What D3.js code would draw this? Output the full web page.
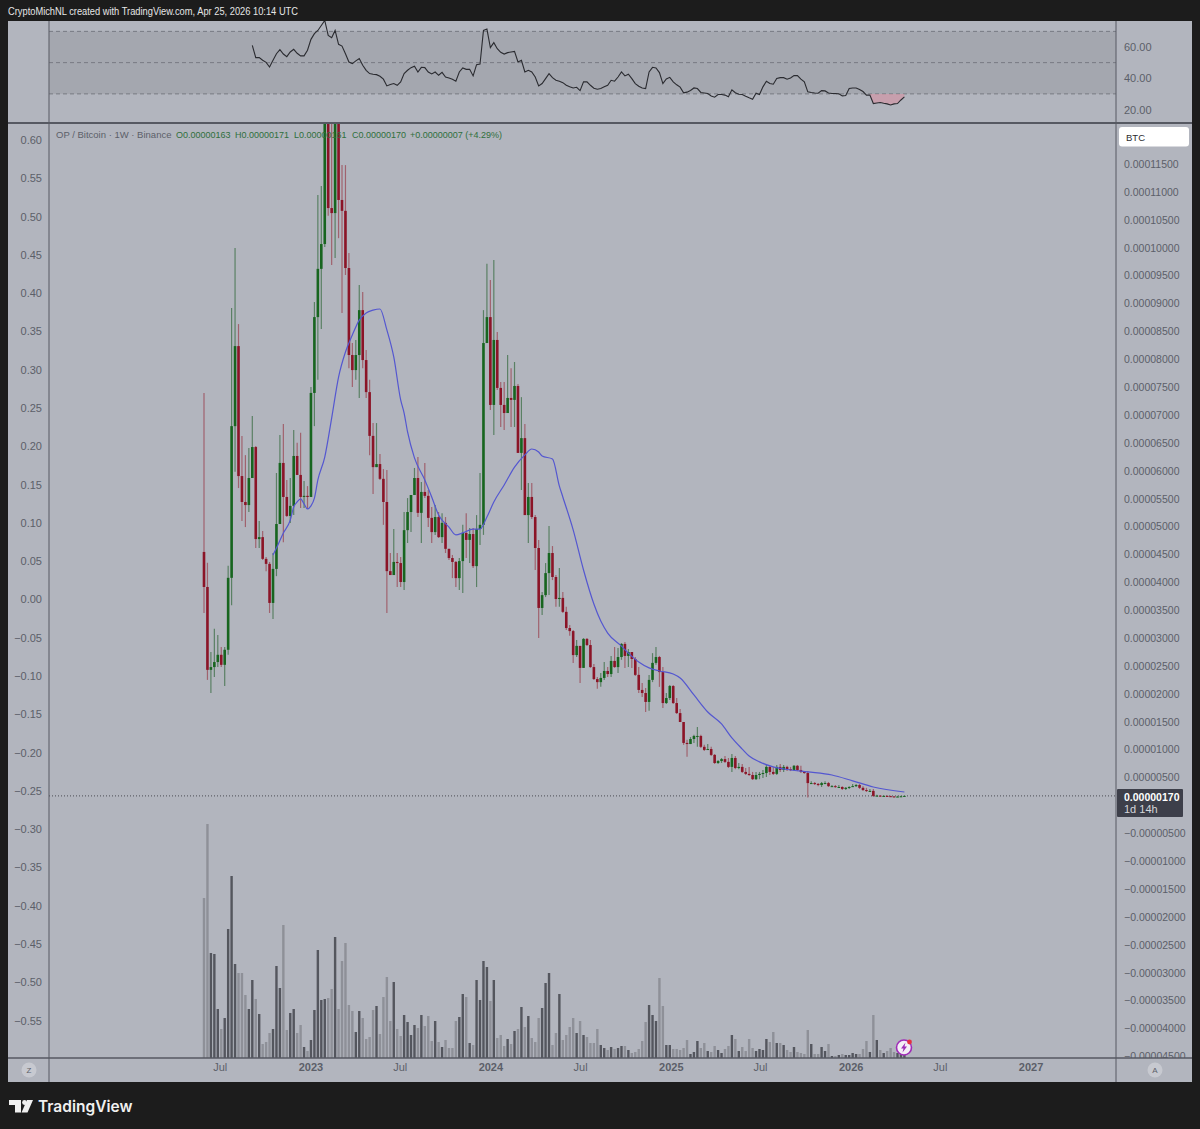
<!DOCTYPE html>
<html>
<head>
<meta charset="utf-8">
<title>OP / Bitcoin</title>
<script src="https://cdnjs.cloudflare.com/ajax/libs/d3/7.8.5/d3.min.js"></script>
<style>
html, body { margin: 0; padding: 0; background: #1c1c1c; }
svg { display: block; }
text { font-family: "Liberation Sans", sans-serif; }
.domain { display: none; }
</style>
</head>
<body>
<div id="mainContainer"></div>
<script>
// weekly candles in satoshi, first candle is the week of 30 May 2022
var firstWeek = "2022-05-30";
var firstOpen = 4544;
var closes = [
    3916,2430,2480,2570,2700,2520,2790,4080,6800,8235,
    5905,5440,5385,5870,6425,4775,4810,4420,4330,3630,
    4240,5045,6140,5530,5190,5370,6265,5925,5530,5550,
    5530,7395,8755,9620,10065,12380,10710,10620,12470,10855,
    10660,9635,8075,7805,8075,8880,7985,7410,6625,6065,
    6120,5855,5440,4200,4130,4365,4345,4005,4935,5260,
    5565,5870,5245,5620,5550,5155,4900,5170,4810,5065,
    4600,4435,4365,4075,4380,4885,4760,4865,4290,4955,
    5030,8290,8755,7180,8345,7485,7180,7035,7305,7270,
    7520,6320,6585,5205,5530,5170,4615,3540,3770,4165,
    4525,4095,3700,3720,3470,3180,3125,2695,2860,2465,
    2985,2875,2480,2265,2210,2285,2410,2355,2590,2480,
    2660,2895,2680,2750,2625,2340,2070,2015,1855,2250,
    2555,2660,2390,1835,1925,2140,1835,1655,1495,1120,
    1100,1190,1245,1245,1050,995,1010,905,760,795,
    830,780,690,850,670,690,600,565,545,470,
    545,565,580,690,600,565,690,635,690,650,
    635,710,635,600,580,400,400,385,365,400,
    400,345,345,330,330,295,315,330,345,365,
    315,275,260,260,170,175,170,170,165,160,
    155,158,163,170
];
var highs = [
    7395,4350,2750,3165,3055,2840,2840,4295,8920,9995,
    8630,6625,6280,6410,6980,6445,5100,4920,4455,4365,
    4525,5960,6640,6840,5835,5870,6730,6500,6680,5815,
    5725,7500,9025,10945,11105,12830,12650,12470,12920,12740,
    11480,11480,9905,8290,8345,9330,9205,8165,7630,6855,
    6855,6300,6030,6015,4525,4955,4525,4455,5260,5510,
    5565,6050,6245,5800,6140,5655,5350,5385,5260,5240,
    5170,4600,4490,4380,4435,5030,5240,4975,4975,5205,
    5960,8880,9710,9420,9780,8490,7590,7590,8075,7840,
    7950,7555,7320,6840,5780,5780,5205,4760,3825,4345,
    5010,4650,4130,4255,3825,3560,3235,3145,2965,2860,
    3000,3000,2965,2535,2300,2375,2570,2480,2680,2840,
    2820,2910,2930,2805,2750,2660,2480,2195,2105,2340,
    2730,2840,2680,2480,2015,2160,2160,1925,1730,1495,
    1175,1225,1265,1405,1265,1085,1100,1050,920,815,
    850,885,850,920,885,760,740,670,690,600,
    600,600,635,725,710,690,725,740,725,710,
    690,725,725,710,615,615,435,420,400,420,
    435,420,365,365,365,345,330,345,385,385,
    385,345,315,295,295,190,185,185,180,175,
    170,172,175,171
];
var lows = [
    3450,2250,2015,2300,2480,2480,2140,2700,3590,5980,
    5690,5100,4990,5260,5870,4615,4615,4400,4200,3450,
    3340,4110,5065,4720,5170,5065,5205,5925,5330,5330,
    5315,5530,6800,7630,8540,10010,10570,9690,9815,10170,
    8830,9510,7840,7500,7630,7305,7840,7305,6280,5585,
    6065,5835,5030,3450,4130,4165,3915,3915,3860,4705,
    4900,5565,5170,4705,5510,4990,4705,4850,4795,4705,
    4525,4400,4075,3915,3860,3810,4435,4345,4255,3915,
    4670,4850,8290,7090,6640,7450,6785,6730,7035,6785,
    6785,6320,5655,5205,4705,5135,4220,3000,3415,3735,
    3770,4040,3560,3560,3450,3145,3040,2555,2660,2195,
    2465,2860,2465,2250,2090,2125,2250,2300,2300,2465,
    2375,2610,2465,2480,2465,2320,2015,1945,1675,1695,
    2210,2520,2125,1745,1820,1890,1820,1640,1495,1085,
    870,1100,1120,1050,1030,975,995,885,740,740,
    760,760,670,600,650,650,580,545,525,455,
    455,470,490,510,545,545,545,600,600,615,
    615,615,615,580,565,140,385,365,345,330,
    385,330,330,315,315,275,275,295,330,330,
    295,260,240,240,150,165,160,160,155,150,
    148,150,150,161
];
var volumes = [
    160,234,105,104,49,29,40,129,182,94,
    85,85,63,49,78,59,44,14,16,25,
    29,92,70,133,28,45,49,25,33,11,
    7,18,48,108,58,59,60,69,121,49,
    97,115,53,47,26,47,40,19,21,48,
    52,24,61,81,37,76,29,22,43,36,
    23,33,30,43,32,42,17,37,16,11,
    18,10,10,37,41,64,61,15,13,78,
    58,97,91,57,78,20,23,12,19,14,
    27,29,51,31,42,20,16,40,50,75,
    85,13,25,64,18,23,31,40,25,37,
    23,21,15,15,29,13,10,8,11,9,
    10,12,12,8,5,6,9,17,36,53,
    43,37,80,52,13,13,9,9,8,10,
    18,4,6,17,10,15,7,6,12,8,
    5,9,12,23,19,7,11,7,19,10,
    7,9,8,19,16,26,15,15,13,8,
    6,11,6,5,4,28,14,4,4,11,
    7,14,2,2,3,4,3,3,5,4,
    4,9,17,6,43,18,8,5,7,10,
    6,5,4,3
];
// moving average, read at these week numbers
var maWeeks = [
    20,21,23,25,26,27,28,29,30,31,32,33,35,37,39,41,43,45,47,49,
    51,53,55,57,58,59,61,64,66,68,71,73,75,78,80,82,84,87,90,93,
    95,97,98,101,103,104,107,110,113,115,117,121,123,126,129,132,136,138,142,146,
    150,153,156,158,161,165,170,175,182,188,194,203
];
var maValues = [
    4490,4615,4885,5115,5350,5440,5495,5405,5315,5370,5510,5835,6245,6945,7680,8130,8435,8700,8830,8880,
    8900,8525,8040,7270,7035,6695,6230,5835,5530,5205,4990,4850,4885,4955,4955,5170,5440,5745,6065,6285,
    6390,6335,6265,6210,5725,5530,4940,4220,3610,3305,3090,2855,2730,2570,2465,2410,2355,2285,1980,1675,
    1460,1210,1010,885,780,690,635,600,545,440,330,240
];
// RSI starts at week 14
var rsiStart = 14;
var rsiValues = [
    61.1,53.2,53.2,51.5,50.2,47.2,
    51.5,55.7,58.3,55.5,53.8,56.8,58.5,56.0,54.3,54.3,
    57.9,64.9,68.5,70.6,73.8,77.0,67.4,66.0,70.6,61.7,
    60.6,55.7,50.4,49.4,51.1,52.6,48.3,45.1,43.0,42.6,
    42.3,41.3,39.4,35.1,36.0,36.6,35.5,37.7,43.0,45.1,
    46.8,47.7,44.0,47.0,46.8,44.0,42.8,44.0,41.9,43.8,
    40.8,40.2,39.4,38.1,44.0,46.6,45.7,45.7,41.5,48.7,
    49.1,70.6,71.5,59.6,62.8,58.9,56.6,55.5,56.4,56.8,
    57.2,50.4,51.5,44.0,45.1,44.0,40.8,35.1,36.6,39.8,
    43.0,40.4,38.7,38.1,37.2,35.5,34.6,33.8,34.2,32.1,
    37.7,37.7,35.5,33.6,33.0,33.4,34.5,35.5,38.7,38.1,
    40.8,44.0,41.5,42.6,39.8,36.6,34.9,33.8,33.4,44.0,
    47.0,46.6,43.6,36.6,39.6,40.6,37.7,35.8,34.3,30.7,
    31.1,32.2,33.8,33.4,30.9,30.6,30.2,28.7,27.9,29.6,
    29.6,29.2,28.1,32.6,30.7,29.8,29.6,28.5,27.5,26.6,
    30.4,29.6,34.5,38.1,36.6,36.2,39.8,40.4,40.4,39.4,
    40.2,41.7,41.7,39.4,37.7,31.3,30.9,30.6,30.4,32.1,
    31.9,30.6,30.2,30.2,30.0,28.7,28.9,33.4,33.8,33.8,
    32.8,31.5,29.2,29.2,23.8,24.2,24.5,24.0,23.6,22.9,
    23.6,23.8,26.1,28.1
];
var timeTickDates = ["2022-07-01","2023-01-01","2023-07-01","2024-01-01","2024-07-01","2025-01-01","2025-07-01","2026-01-01","2026-07-01","2027-01-01"];
var timeTickLabels = ["Jul","2023","Jul","2024","Jul","2025","Jul","2026","Jul","2027"];
var rsiTicks = [60, 40, 20];
var leftTicks = [0.60,0.55,0.50,0.45,0.40,0.35,0.30,0.25,0.20,0.15,0.10,0.05,0.00,-0.05,-0.10,-0.15,-0.20,-0.25,-0.30,-0.35,-0.40,-0.45,-0.50,-0.55];
var priceTicks = [11500,11000,10500,10000,9500,9000,8500,8000,7500,7000,6500,6000,5500,5000,4500,4000,3500,3000,2500,2000,1500,1000,500,-500,-1000,-1500,-2000,-2500,-3000,-3500,-4000,-4500];
var lastPrice = 170;

var bg = "#1c1c1c", pane = "#b2b5be", band = "#a4a7af", rule = "#565962", axisText = "#5c5f69";
var panel = { left: 8, right: 1192, top: 21, bottom: 1082, x0: 49, x1: 1116, sep: 123, timeTop: 1058 };

var svg = d3.select("#mainContainer").append("svg")
    .attr("width", 1200)
    .attr("height", 1129);

svg.append("rect").attr("width", 1200).attr("height", 1129).attr("fill", bg);
svg.append("rect")
    .attr("x", panel.left).attr("y", panel.top)
    .attr("width", panel.right - panel.left).attr("height", panel.bottom - panel.top)
    .attr("fill", pane);

var defs = svg.append("defs");
defs.append("clipPath").attr("id", "clipMain").append("rect")
    .attr("x", panel.x0).attr("y", panel.sep + 1)
    .attr("width", panel.x1 - panel.x0).attr("height", panel.timeTop - panel.sep - 1);
defs.append("clipPath").attr("id", "clipRsi").append("rect")
    .attr("x", panel.x0).attr("y", panel.top)
    .attr("width", panel.x1 - panel.x0).attr("height", panel.sep - panel.top);
defs.append("clipPath").attr("id", "clipRight").append("rect")
    .attr("x", panel.x1).attr("y", panel.sep + 1)
    .attr("width", panel.right - panel.x1).attr("height", panel.timeTop - panel.sep - 1);

// scales
var parseDay = d3.utcParse("%Y-%m-%d");
var start = parseDay(firstWeek);
var weekDate = function(i) { return d3.utcDay.offset(start, i * 7); };
var xscale = d3.scaleUtc()
    .domain([start, weekDate(203)])
    .range([204, 904.4]);
var yPrice = d3.scaleLinear().domain([11500, 500]).range([164, 777.5]);
var yLeft = d3.scaleLinear().domain([0.60, -0.55]).range([140, 1020.5]);
var yRsi = d3.scaleLinear().domain([60, 20]).range([47, 109.5]);
var yVol = d3.scaleLinear().domain([0, 234]).range([1058, 824]);

var candles = closes.map(function(c, i) {
    return { i: i, date: weekDate(i), open: i == 0 ? firstOpen : closes[i - 1], close: c, high: highs[i], low: lows[i], volume: volumes[i] };
});
var isUp = function(d) { return d.close >= d.open; };

// RSI band and lines
var rsiG = svg.append("g").attr("clip-path", "url(#clipRsi)");
rsiG.append("rect")
    .attr("x", panel.x0).attr("width", panel.x1 - panel.x0)
    .attr("y", yRsi(70)).attr("height", yRsi(30) - yRsi(70))
    .attr("fill", band);
rsiG.selectAll("line.level").data([70, 50, 30]).enter().append("line")
    .attr("class", "level")
    .attr("x1", panel.x0).attr("x2", panel.x1)
    .attr("y1", yRsi).attr("y2", yRsi)
    .attr("stroke", "#777a83")
    .attr("stroke-dasharray", "4,3");

var rsiData = rsiValues.map(function(v, i) { return { date: weekDate(i + rsiStart), v: v }; });
// only the last dip shows a fill in the picture
rsiG.append("path")
    .datum(rsiData.slice(-11))
    .attr("fill", "#d98d9e")
    .attr("fill-opacity", 0.55)
    .attr("d", d3.area()
        .x(function(d) { return xscale(d.date); })
        .y0(yRsi(30))
        .y1(function(d) { return yRsi(Math.min(d.v, 30)); }));
rsiG.append("path")
    .datum(rsiData)
    .attr("fill", "none")
    .attr("stroke", "#2a2b30")
    .attr("stroke-width", 1.1)
    .attr("d", d3.line()
        .x(function(d) { return xscale(d.date); })
        .y(function(d) { return yRsi(d.v); }));

// main pane
var mainG = svg.append("g").attr("clip-path", "url(#clipMain)");

mainG.append("g").selectAll("rect").data(candles).enter().append("rect")
    .attr("x", function(d) { return xscale(d.date) - 1.2; })
    .attr("width", 2.4)
    .attr("y", function(d) { return yVol(d.volume); })
    .attr("height", function(d) { return yVol(0) - yVol(d.volume); })
    .attr("fill", function(d) { return isUp(d) ? "#54565e" : "#8e9098"; });

mainG.append("line")
    .attr("x1", panel.x0).attr("x2", panel.x1)
    .attr("y1", yPrice(lastPrice)).attr("y2", yPrice(lastPrice))
    .attr("stroke", "#4a4c54")
    .attr("stroke-dasharray", "1,2");

mainG.append("g").selectAll("line").data(candles).enter().append("line")
    .attr("x1", function(d) { return xscale(d.date); })
    .attr("x2", function(d) { return xscale(d.date); })
    .attr("y1", function(d) { return yPrice(d.high); })
    .attr("y2", function(d) { return yPrice(d.low); })
    .attr("stroke", function(d) { return isUp(d) ? "#5a8064" : "#a0626e"; })
    .attr("stroke-width", 1.2);

mainG.append("g").selectAll("rect").data(candles).enter().append("rect")
    .attr("x", function(d) { return xscale(d.date) - 1.3; })
    .attr("width", 2.6)
    .attr("y", function(d) { return yPrice(Math.max(d.open, d.close)); })
    .attr("height", function(d) { return Math.max(1, Math.abs(yPrice(d.open) - yPrice(d.close))); })
    .attr("fill", function(d) { return isUp(d) ? "#17651f" : "#8b1427"; });

mainG.append("path")
    .datum(maWeeks.map(function(w, i) { return { date: weekDate(w), v: maValues[i] }; }))
    .attr("fill", "none")
    .attr("stroke", "#5457d0")
    .attr("stroke-width", 1.2)
    .attr("d", d3.line()
        .curve(d3.curveMonotoneX)
        .x(function(d) { return xscale(d.date); })
        .y(function(d) { return yPrice(d.v); }));

// axes
var styleAxis = function(g) {
    g.selectAll("text").attr("fill", axisText).attr("font-size", "11px");
};
svg.append("g")
    .attr("transform", "translate(49,0)")
    .call(d3.axisLeft(yLeft).tickValues(leftTicks).tickSize(0).tickPadding(7)
        .tickFormat(function(d) { return d3.format(".2f")(d); }))
    .call(styleAxis);

svg.append("g")
    .attr("clip-path", "url(#clipRight)")
    .append("g")
    .attr("transform", "translate(1116,0)")
    .call(d3.axisRight(yPrice).tickValues(priceTicks).tickSize(0).tickPadding(8)
        .tickFormat(function(d) { return (d < 0 ? "\u2212" : "") + (Math.abs(d) / 1e8).toFixed(8); }))
    .call(styleAxis)
    .selectAll("text").attr("font-size", "10.5px");

svg.append("g")
    .attr("transform", "translate(1116,0)")
    .call(d3.axisRight(yRsi).tickValues(rsiTicks).tickSize(0).tickPadding(8)
        .tickFormat(function(d) { return d.toFixed(2); }))
    .call(styleAxis);

svg.append("g")
    .attr("transform", "translate(0,1058)")
    .call(d3.axisBottom(xscale)
        .tickValues(timeTickDates.map(parseDay))
        .tickSize(0).tickPadding(5)
        .tickFormat(function(d, i) { return timeTickLabels[i]; }))
    .call(styleAxis)
    .selectAll("text")
    .attr("font-weight", function(d, i) { return timeTickLabels[i].length == 4 ? "bold" : "normal"; });

// pane rules
var rules = [
    [panel.x0, panel.top, panel.x0, panel.bottom, 1],
    [panel.x1, panel.top, panel.x1, panel.bottom, 1],
    [panel.left, panel.sep, panel.right, panel.sep, 2],
    [panel.left, panel.timeTop, panel.right, panel.timeTop, 1.5]
];
svg.append("g").selectAll("line").data(rules).enter().append("line")
    .attr("x1", function(d) { return d[0]; })
    .attr("y1", function(d) { return d[1]; })
    .attr("x2", function(d) { return d[2]; })
    .attr("y2", function(d) { return d[3]; })
    .attr("stroke", rule)
    .attr("stroke-width", function(d) { return d[4]; });

// header and legend
svg.append("text").attr("x", 8).attr("y", 15)
    .attr("fill", "#e6e6e6").attr("font-size", "11.5px")
    .attr("textLength", 290).attr("lengthAdjust", "spacingAndGlyphs")
    .text("CryptoMichNL created with TradingView.com, Apr 25, 2026 10:14 UTC");

var legendG = svg.append("g");
legendG.append("text").attr("x", 56).attr("y", 138).attr("fill", "#5c5f69").attr("font-size", "9.5px")
    .text("OP / Bitcoin \u00b7 1W \u00b7 Binance");
var legendParts = [
    [176, "O0.00000163"], [235, "H0.00000171"], [294, "L0.00000161"], [352, "C0.00000170"], [410, "+0.00000007 (+4.29%)"]
];
legendG.selectAll("text.ohlc").data(legendParts).enter().append("text")
    .attr("class", "ohlc")
    .attr("x", function(d) { return d[0]; })
    .attr("y", 138)
    .attr("fill", "#2f6f3c")
    .attr("font-size", "9px")
    .text(function(d) { return d[1]; });

// BTC button and price label
svg.append("rect").attr("x", 1119).attr("y", 127).attr("width", 70).attr("height", 19.5).attr("rx", 3).attr("fill", "#ffffff");
svg.append("text").attr("x", 1126).attr("y", 140.5).attr("fill", "#2a2b30").attr("font-size", "9.5px").text("BTC");

svg.append("rect").attr("x", 1117).attr("y", yPrice(lastPrice) - 7).attr("width", 66).attr("height", 28).attr("rx", 1).attr("fill", "#3d3f4a");
svg.append("text").attr("x", 1124).attr("y", yPrice(lastPrice) + 5).attr("fill", "#ffffff").attr("font-size", "10.5px").attr("font-weight", "bold")
    .text((lastPrice / 1e8).toFixed(8));
svg.append("text").attr("x", 1124).attr("y", yPrice(lastPrice) + 17).attr("fill", "#d5d6da").attr("font-size", "11px").text("1d 14h");

// Z and A buttons
var corner = [[29, "Z"], [1155, "A"]];
svg.append("g").selectAll("circle").data(corner).enter().append("circle")
    .attr("cx", function(d) { return d[0]; }).attr("cy", 1070).attr("r", 7.5).attr("fill", "#c7c9d0");
svg.append("g").selectAll("text").data(corner).enter().append("text")
    .attr("x", function(d) { return d[0]; }).attr("y", 1073).attr("text-anchor", "middle")
    .attr("font-size", "8px").attr("fill", "#5c5f69")
    .text(function(d) { return d[1]; });

// lightning badge
var badge = svg.append("g").attr("transform", "translate(904,1047.5)");
badge.append("circle").attr("r", 7.5).attr("fill", "#f4eef6").attr("stroke", "#a02cb8").attr("stroke-width", 1.6);
badge.append("path").attr("d", "M1.5,-5 L-3,1 L-0.5,1 L-1.5,5 L3,-1 L0.5,-1 Z").attr("fill", "#a02cb8");
badge.append("circle").attr("cx", 5.5).attr("cy", -5.5).attr("r", 2.4).attr("fill", "#e53040");

// TradingView logo
var logo = svg.append("g").attr("fill", "#f0f0f0");
logo.append("path").attr("d", "M9,1100 H21 V1112.5 H15 V1105 H9 Z");
logo.append("circle").attr("cx", 24.5).attr("cy", 1102.5).attr("r", 2.4);
logo.append("path").attr("d", "M27,1100 H33 L27.5,1112.5 H21.5 Z");
svg.append("text").attr("x", 38).attr("y", 1111.5)
    .attr("fill", "#f0f0f0").attr("font-size", "15.5px").attr("font-weight", "600")
    .style("font-family", "Inter, sans-serif")
    .text("TradingView");
</script>
</body>
</html>
